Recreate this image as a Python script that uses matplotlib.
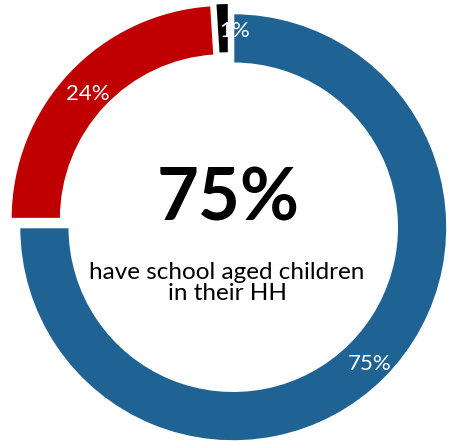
import matplotlib.pyplot as plt

# donut values (clockwise from 12 o'clock)
shares = [75, 24, 1]
colors = ["#1F6394", "#C00000", "#000000"]
headline = "75%"
subtitle = "have school aged children\nin their HH"

plt.rcParams['font.family'] = ['Lato', 'DejaVu Sans']

fig = plt.figure(figsize=(4.49, 4.45), dpi=100)
ax = fig.add_axes([0, 0, 1, 1])

cx, cy, r = 229, 222, 214
# explode is in data units here (axes are in pixels)
wedges, texts, autotexts = ax.pie(
    shares, colors=colors, startangle=90, counterclock=False,
    radius=r, center=(cx, cy), explode=[6, 6, 6],
    wedgeprops=dict(width=r * 0.235, edgecolor="white", linewidth=1.5),
    autopct=lambda p: f"{p:.0f}%", pctdistance=0.88,
    textprops=dict(color="white", fontsize=16), frame=True)
ax.set_xlim(0, 449)
ax.set_ylim(0, 445)
ax.axis("off")

# nudge labels to where the original puts them
x, y = autotexts[0].get_position()
autotexts[0].set_position((x + 3, y - 4))
x, y = autotexts[1].get_position()
autotexts[1].set_position((x, y - 4))
x, y = autotexts[2].get_position()
autotexts[2].set_position((x + 12, y - 2))

ax.text(cx - 1, cy + 23, headline, ha="center", va="center",
        fontsize=52, fontweight="bold", color="black")
ax.text(cx - 2, cy - 60, subtitle, ha="center", va="center",
        fontsize=17.5, color="black", linespacing=1.05)

fig.savefig("out.png", dpi=100)
